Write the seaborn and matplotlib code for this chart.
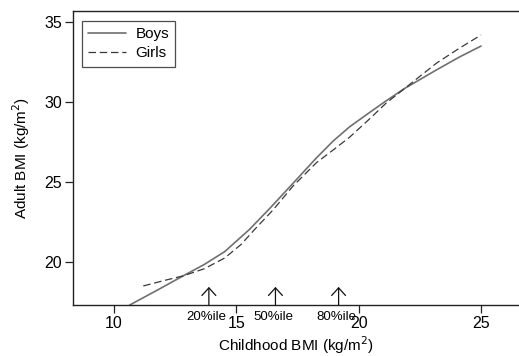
import matplotlib
matplotlib.use("Agg")
import matplotlib.pyplot as plt
import matplotlib.transforms as mtransforms
import seaborn as sns
import pandas as pd

boys_x = [10.65, 11.81, 12.83, 13.7, 14.53, 15.55, 16.4, 17.32, 18.27, 18.95, 19.63, 20.45, 21.1, 21.88, 23.17, 24.1, 25.0]
boys_y = [17.31, 18.27, 19.13, 19.85, 20.65, 22.05, 23.4, 24.92, 26.5, 27.55, 28.45, 29.35, 30.05, 30.85, 32.0, 32.8, 33.5]
girls_x = [11.2, 12.08, 12.83, 13.7, 14.53, 15.2, 15.76, 16.5, 17.32, 18.27, 19.0, 19.63, 20.45, 21.1, 21.88, 23.17, 24.1, 25.0]
girls_y = [18.5, 18.85, 19.13, 19.58, 20.25, 21.1, 22.05, 23.25, 24.75, 26.2, 27.05, 27.8, 28.95, 29.9, 30.85, 32.42, 33.35, 34.19]

pct_x = [13.88, 16.6, 19.18]
pct_labels = ["20%ile", "50%ile", "80%ile"]

x_ticks = [10, 15, 20, 25]
y_ticks = [20, 25, 30, 35]

sns.set_style("ticks")
plt.rcParams['font.family'] = ['Liberation Sans', 'DejaVu Sans']
plt.rcParams['text.color'] = 'black'
plt.rcParams['axes.labelcolor'] = 'black'
plt.rcParams['xtick.color'] = 'black'
plt.rcParams['ytick.color'] = 'black'

fig = plt.figure(figsize=(5.19, 3.56), dpi=100)
ax = fig.add_axes([0.1407, 0.1433, 0.8593, 0.8258])

df = pd.concat([
    pd.DataFrame({"x": boys_x, "y": boys_y, "sex": "Boys"}),
    pd.DataFrame({"x": girls_x, "y": girls_y, "sex": "Girls"}),
])
sns.lineplot(data=df[df.sex == "Boys"], x="x", y="y", ax=ax, color="#707070",
             lw=1.2, label="Boys", sort=False)
sns.lineplot(data=df[df.sex == "Girls"], x="x", y="y", ax=ax, color="#383838",
             lw=0.9, label="Girls", sort=False)
ax.lines[1].set_dashes([6, 3])

ax.set_xlim(8.33, 26.55)
ax.set_ylim(17.31, 35.69)
ax.set_xticks(x_ticks)
ax.set_yticks(y_ticks)
ax.tick_params(axis='both', labelsize=11.5, length=6, width=0.9, color='#222222', pad=2)

for s in ['left', 'bottom', 'top']:
    ax.spines[s].set_linewidth(1.0)
    ax.spines[s].set_color('#222222')
ax.spines['right'].set_visible(False)

ax.set_xlabel("Childhood BMI (kg/m$^2$)", fontsize=11, labelpad=2)
ax.set_ylabel("Adult BMI (kg/m$^2$)", fontsize=11, labelpad=9)

trans = mtransforms.blended_transform_factory(ax.transData, ax.transAxes)
for px, lab in zip(pct_x, pct_labels):
    ax.annotate("", xy=(px, 18.44), xytext=(px, 17.31), xycoords='data',
                arrowprops=dict(arrowstyle='->,head_length=0.55,head_width=0.5',
                                lw=0.9, color='#111111', shrinkA=0, shrinkB=0))
    ax.text(px - 0.1, -0.041, lab, transform=trans, ha='center', va='center', fontsize=9.5)

leg = ax.legend(loc='upper left', frameon=True, fancybox=False, fontsize=11,
                handlelength=2.5, borderpad=0.4, labelspacing=0.35, handletextpad=0.6,
                bbox_to_anchor=(0.02, 0.966), borderaxespad=0.0)
leg.get_frame().set_edgecolor('#222222')
leg.get_frame().set_linewidth(0.9)

fig.savefig("out.png", dpi=100)
